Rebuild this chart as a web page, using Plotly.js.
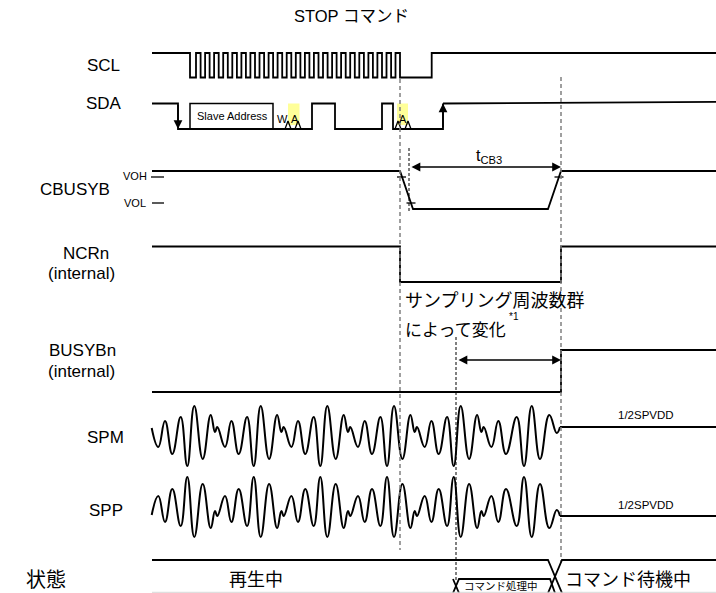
<!DOCTYPE html>
<html><head><meta charset="utf-8">
<script src="https://cdn.plot.ly/plotly-3.0.1.min.js"></script>
<style>html,body{margin:0;padding:0;background:#fff;} #chart{width:716px;height:593px;}</style>
</head><body><div id="chart"></div>
<script>
// ---- data (time positions along the diagram and analog values) ----
const sclRise = [196,205.1,214.1,223.2,232.3,241.4,250.4,259.5,268.6,277.6,286.7,295.8,304.9,313.9,323,332.1,341.1,350.2,359.3,368.4,377.4,386.5,395.5];
const sclFall = [200.6,209.6,218.7,227.8,236.9,245.9,255,264.1,273.1,282.2,291.3,300.4,309.4,318.5,327.6,336.6,345.7,354.8,363.9,372.9,382,391.1,400];
const sclStartLow = 190, sclStopHigh = 431.7;

const sdaT = [152,178,312,335,382,393,443];
const sdaV = [1,0,1,0,1,0,1];
const slaveBox = [190,273];
const ackWin = [[288,299.5],[397,408]];
const ackMarks = [288,298,398,408];

const cbT = [152,400,413,548,561,716];
const cbV = [1,1,0,0,1,1];
const ncrT = [152,400,561,716];
const ncrV = [1,0,1,1];
const busyT = [152,561,716];
const busyV = [0,1,1];

const tStop = 400, tReady = 561, tVol = 409, tProc = 456;

const spmX = [151.7,158.3,165,172.3,180.7,187.3,194.3,202.7,210.7,215,217.3,225,
 231.4,238.7,247.1,253.7,260.7,269.1,277.1,281.4,283.7,291.4,
 298,305.3,313.7,320.3,327.3,335.7,343.7,348,350.3,358,
 364.7,372,380.4,387,394,402.4,410.4,414.7,417,424.7,
 431.4,438.7,447.1,453.7,460.7,469.1,477.1,481.4,483.7,491.4,
 498.3,506,516.7,524,531.7,540,549.3,556.7,560];
const spmY = [428,447,421,454,417,466,406,459,415,432,427,447,
 421,454,417,466,406,459,415,432,427,447,
 421,454,417,466,406,459,415,432,427,447,
 421,454,417,466,406,459,415,432,427,447,
 421,454,417,466,406,459,415,432,427,447,
 421,454,417,466,406,459,415,433,427];
const sppX = spmX;
const sppY = [515,496,522,489,526,477,537,484,528,511,516,496,
 522,489,526,477,537,484,528,511,516,496,
 522,489,526,477,537,484,528,511,516,496,
 522,489,526,477,537,484,528,511,516,496,
 522,489,526,477,537,484,528,511,516,496,
 522,489,526,477,537,484,528,510,516];
const spmRest = 427, sppRest = 516;

const rowLabels = ["SCL","SDA","CBUSYB","NCRn","(internal)","BUSYBn","(internal)","SPM","SPP"];
const stateLabels = ["再生中","コマンド処理中","コマンド待機中"];

// ---- layout constants ----
const X0 = 152, XE = 716;
const SCL_H = 53, SCL_L = 77.5, SDA_H = 103.5, SDA_L = 129;
const CB_H = 171, CB_L = 209, NCR_H = 246.5, NCR_L = 282, BU_H = 350, BU_L = 392;
const ST_TOP = 560, ST_BOX = 579, ST_BOT = 593;
const LAT = "Liberation Sans, Arial, Noto Sans CJK JP, sans-serif";
const JP = "Noto Sans CJK JP, Liberation Sans, sans-serif";

const traces = [];
function ln(x, y, o) {
  o = o || {};
  traces.push({type:'scatter', mode:'lines', x:x, y:y, hoverinfo:'skip',
    fill: o.fill || 'none', fillcolor: o.fillcolor,
    line:{color:o.color||'#000', width:o.width===undefined?1.8:o.width, dash:o.dash||'solid', shape:o.shape||'linear', smoothing:o.smoothing}});
}

// yellow ACK windows
ackWin.forEach(w => ln([w[0],w[1],w[1],w[0],w[0]],[SDA_H,SDA_H,SDA_L-4,SDA_L-4,SDA_H],{fill:'toself',fillcolor:'#ffff99',width:0,color:'rgba(0,0,0,0)'}));

// SCL
(function(){
  const x=[X0, sclStartLow], y=[SCL_H, SCL_L];
  for (let i=0;i<sclRise.length;i++){ x.push(sclRise[i]); y.push(SCL_H); x.push(sclFall[i]); y.push(SCL_L); }
  x.push(sclStopHigh); y.push(SCL_H); x.push(XE); y.push(SCL_H);
  ln(x,y,{shape:'hv'});
})();

// SDA
(function(){
  const x=sdaT.slice(), y=sdaV.map(v=>v?SDA_H:SDA_L);
  ln(x,y,{shape:'hv'});
  ln([sdaT[sdaT.length-1], XE],[SDA_H, SDA_H-1.6]);
  ln([slaveBox[0],slaveBox[0],slaveBox[1],slaveBox[1]],[SDA_L,SDA_H,SDA_H,SDA_L],{width:1.5});
  ackMarks.forEach(m => ln([m-3,m,m+3],[SDA_L,SDA_L-8,SDA_L],{width:1.3}));
})();

// CBUSYB
ln(cbT, cbV.map(v=>v?CB_H:CB_L));
// VOH / VOL ticks
ln([151,164],[177,177],{width:1.3});
ln([152,164],[203,203],{width:1.3});
ln([397,406],[177,177],{width:1.3});
ln([406.5,415.5],[203,203],{width:1.3});
ln([554.5,563.5],[177,177],{width:1.3});

// NCRn, BUSYBn
ln(ncrT, ncrV.map(v=>v?NCR_H:NCR_L),{shape:'hv'});
ln(busyT, busyV.map(v=>v?BU_H:BU_L),{shape:'hv'});

// SPM / SPP
ln(spmX, spmY, {shape:'spline', smoothing:1.3, width:2});
ln([spmX[spmX.length-1], XE],[spmRest, spmRest]);
ln(sppX, sppY, {shape:'spline', smoothing:1.3, width:2});
ln([sppX[sppX.length-1], XE],[sppRest, sppRest]);

// dashed markers
ln([tStop,tStop],[79,550],{color:'#808080',width:1.5,dash:'4px,3px'});
ln([tReady,tReady],[77,562],{color:'#808080',width:1.5,dash:'4px,3px'});
ln([tVol,tVol],[148,213],{color:'#000',width:1,dash:'3px,2px'});
ln([tProc,tProc],[337,580],{color:'#000',width:1,dash:'3px,2px'});

// state row
ln([X0,548,562],[ST_TOP,ST_TOP,ST_BOT]);
ln([548,562,XE],[ST_BOT,ST_TOP,ST_TOP]);
ln([453,459,550,555],[ST_BOT,ST_BOX,ST_BOX,ST_BOT]);
ln([453,459],[ST_BOX,ST_BOT]);
ln([X0,XE],[592.3,592.3],{color:'#d8d8d8',width:1});

// ---- annotations ----
const ann = [];
function tx(t,x,y,size,o){ o=o||{};
  ann.push({text:t,x:x,y:y,xref:'x',yref:'y',showarrow:false,xanchor:o.xa||'center',yanchor:'middle',
    font:{family:o.fam||LAT,size:size,color:'#000'}}); }
function arr(x,y,ax,ay,dbl){
  ann.push({text:'',x:x,y:y,ax:ax,ay:ay,xref:'x',yref:'y',axref:'x',ayref:'y',showarrow:true,
    arrowhead:2,arrowsize:1.1,arrowwidth:1.6,arrowcolor:'#000',arrowside:dbl?'end+start':'end',standoff:0,startstandoff:0});
}
tx("STOP コマンド",351,16,16.5);
const rowPos = [[103,65],[104,103],[75,189],[86,253],[81,273],[82,350],[81,371],[105,437],[106,510]];
rowLabels.forEach((t,i)=>tx(t,rowPos[i][0],rowPos[i][1],17));
tx("状態",46,578,20,{fam:JP});
tx("VOH",135,176,11);
tx("VOL",135,203,11);
tx("Slave Address",232,115.5,11);
tx("W",282,119,11);
tx("A",295,119,11);
tx("A",403,119,11);
tx("t<sub>CB3</sub>",489,156,16);
tx("サンプリング周波数群",403,299,18,{xa:'left',fam:JP});
tx("によって変化",403,328,17,{xa:'left',fam:JP});
tx("*1",507,316,10,{xa:'left'});
tx("1/2SPVDD",646,415,11.5);
tx("1/2SPVDD",646,505,11.5);
tx(stateLabels[0],256,578,18,{fam:JP});
tx(stateLabels[1],501,585,10.5,{fam:JP});
tx(stateLabels[2],628,578,18,{fam:JP});

arr(178,SDA_L,178,SDA_H,false);
arr(443,SDA_H,443,SDA_L,false);
arr(561,167,410,167,true);
arr(561,360,457,360,true);

const layout = {width:716,height:593,margin:{l:0,r:0,t:0,b:0},showlegend:false,
  paper_bgcolor:'#fff',plot_bgcolor:'#fff',
  xaxis:{range:[0,716],visible:false,fixedrange:true},
  yaxis:{range:[593,0],visible:false,fixedrange:true},
  annotations:ann};
Plotly.newPlot('chart',traces,layout,{staticPlot:true,displayModeBar:false});
</script></body></html>
